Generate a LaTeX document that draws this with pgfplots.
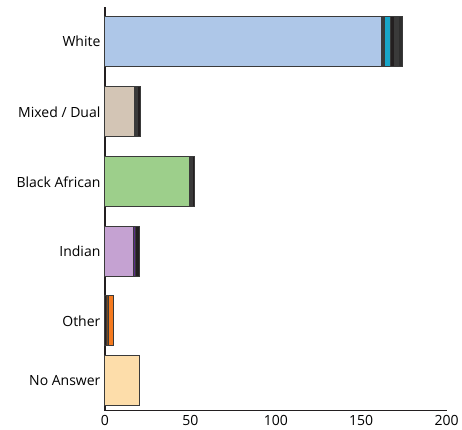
\documentclass[border=0pt]{standalone}
\usepackage{fontspec}
\setmainfont{Open Sans}
\usepackage{pgfplots}
\pgfplotsset{compat=1.18}
\definecolor{axc}{HTML}{231F20}
\definecolor{outl}{HTML}{3A3A3A}
\definecolor{wblue}{HTML}{AEC7E8}
\definecolor{wcyan}{HTML}{17A5C8}
\definecolor{mtan}{HTML}{D3C5B5}
\definecolor{bgreen}{HTML}{9DCF8B}
\definecolor{ipurp}{HTML}{C5A2D2}
\definecolor{ipdark}{HTML}{5B2A8C}
\definecolor{oorange}{HTML}{F57A1F}
\definecolor{obrown}{HTML}{7A4A1E}
\definecolor{npeach}{HTML}{FDDDAA}
\begin{document}
\begin{tikzpicture}
\begin{axis}[
  scale only axis,
  width=342pt, height=404pt,
  xmin=0, xmax=200, ymin=0, ymax=404,
  axis x line=bottom, axis y line=left,
  axis line style={line width=1.6pt, color=axc, -},
  xtick={0,50,100,150,200},
  ytick={369.3,299,229,159.5,90,30.5},
  yticklabels={White,Mixed / Dual,Black African,Indian,Other,No Answer},
  major tick length=0pt,
  tick label style={font=\fontsize{14}{16}\selectfont, text=black},
  /pgf/number format/assume math mode=true,
  xticklabel style={yshift=-1pt},
  yticklabel style={xshift=-1pt},
  xbar, bar shift=0pt, bar width=50,
  every axis plot/.append style={draw=outl, line width=0.9pt},
  clip=false,
]
% White
\addplot[fill=outl!80!black] coordinates {(174.3,369.3)};
\addplot[fill=outl] coordinates {(172.0,369.3)};
\addplot[fill=axc] coordinates {(169.6,369.3)};
\addplot[fill=wcyan] coordinates {(167.2,369.3)};
\addplot[fill=outl] coordinates {(163.7,369.3)};
\addplot[fill=wblue] coordinates {(162.0,369.3)};
% Mixed / Dual
\addplot[fill=axc] coordinates {(20.5,299)};
\addplot[fill=outl] coordinates {(19.0,299)};
\addplot[fill=mtan] coordinates {(17.5,299)};
% Black African
\addplot[fill=axc] coordinates {(52.3,229)};
\addplot[fill=outl] coordinates {(51.0,229)};
\addplot[fill=bgreen] coordinates {(49.3,229)};
% Indian
\addplot[fill=axc] coordinates {(20.0,159.5)};
\addplot[fill=ipdark] coordinates {(18.0,159.5)};
\addplot[fill=ipurp] coordinates {(16.6,159.5)};
% Other
\addplot[fill=oorange] coordinates {(4.9,90)};
\addplot[fill=obrown] coordinates {(2.3,90)};
\addplot[fill=axc] coordinates {(1.0,90)};
% No Answer
\addplot[fill=npeach] coordinates {(20.0,30.5)};
\end{axis}
\path (-105pt,-19pt) rectangle (357pt,411pt);
\end{tikzpicture}
\end{document}
